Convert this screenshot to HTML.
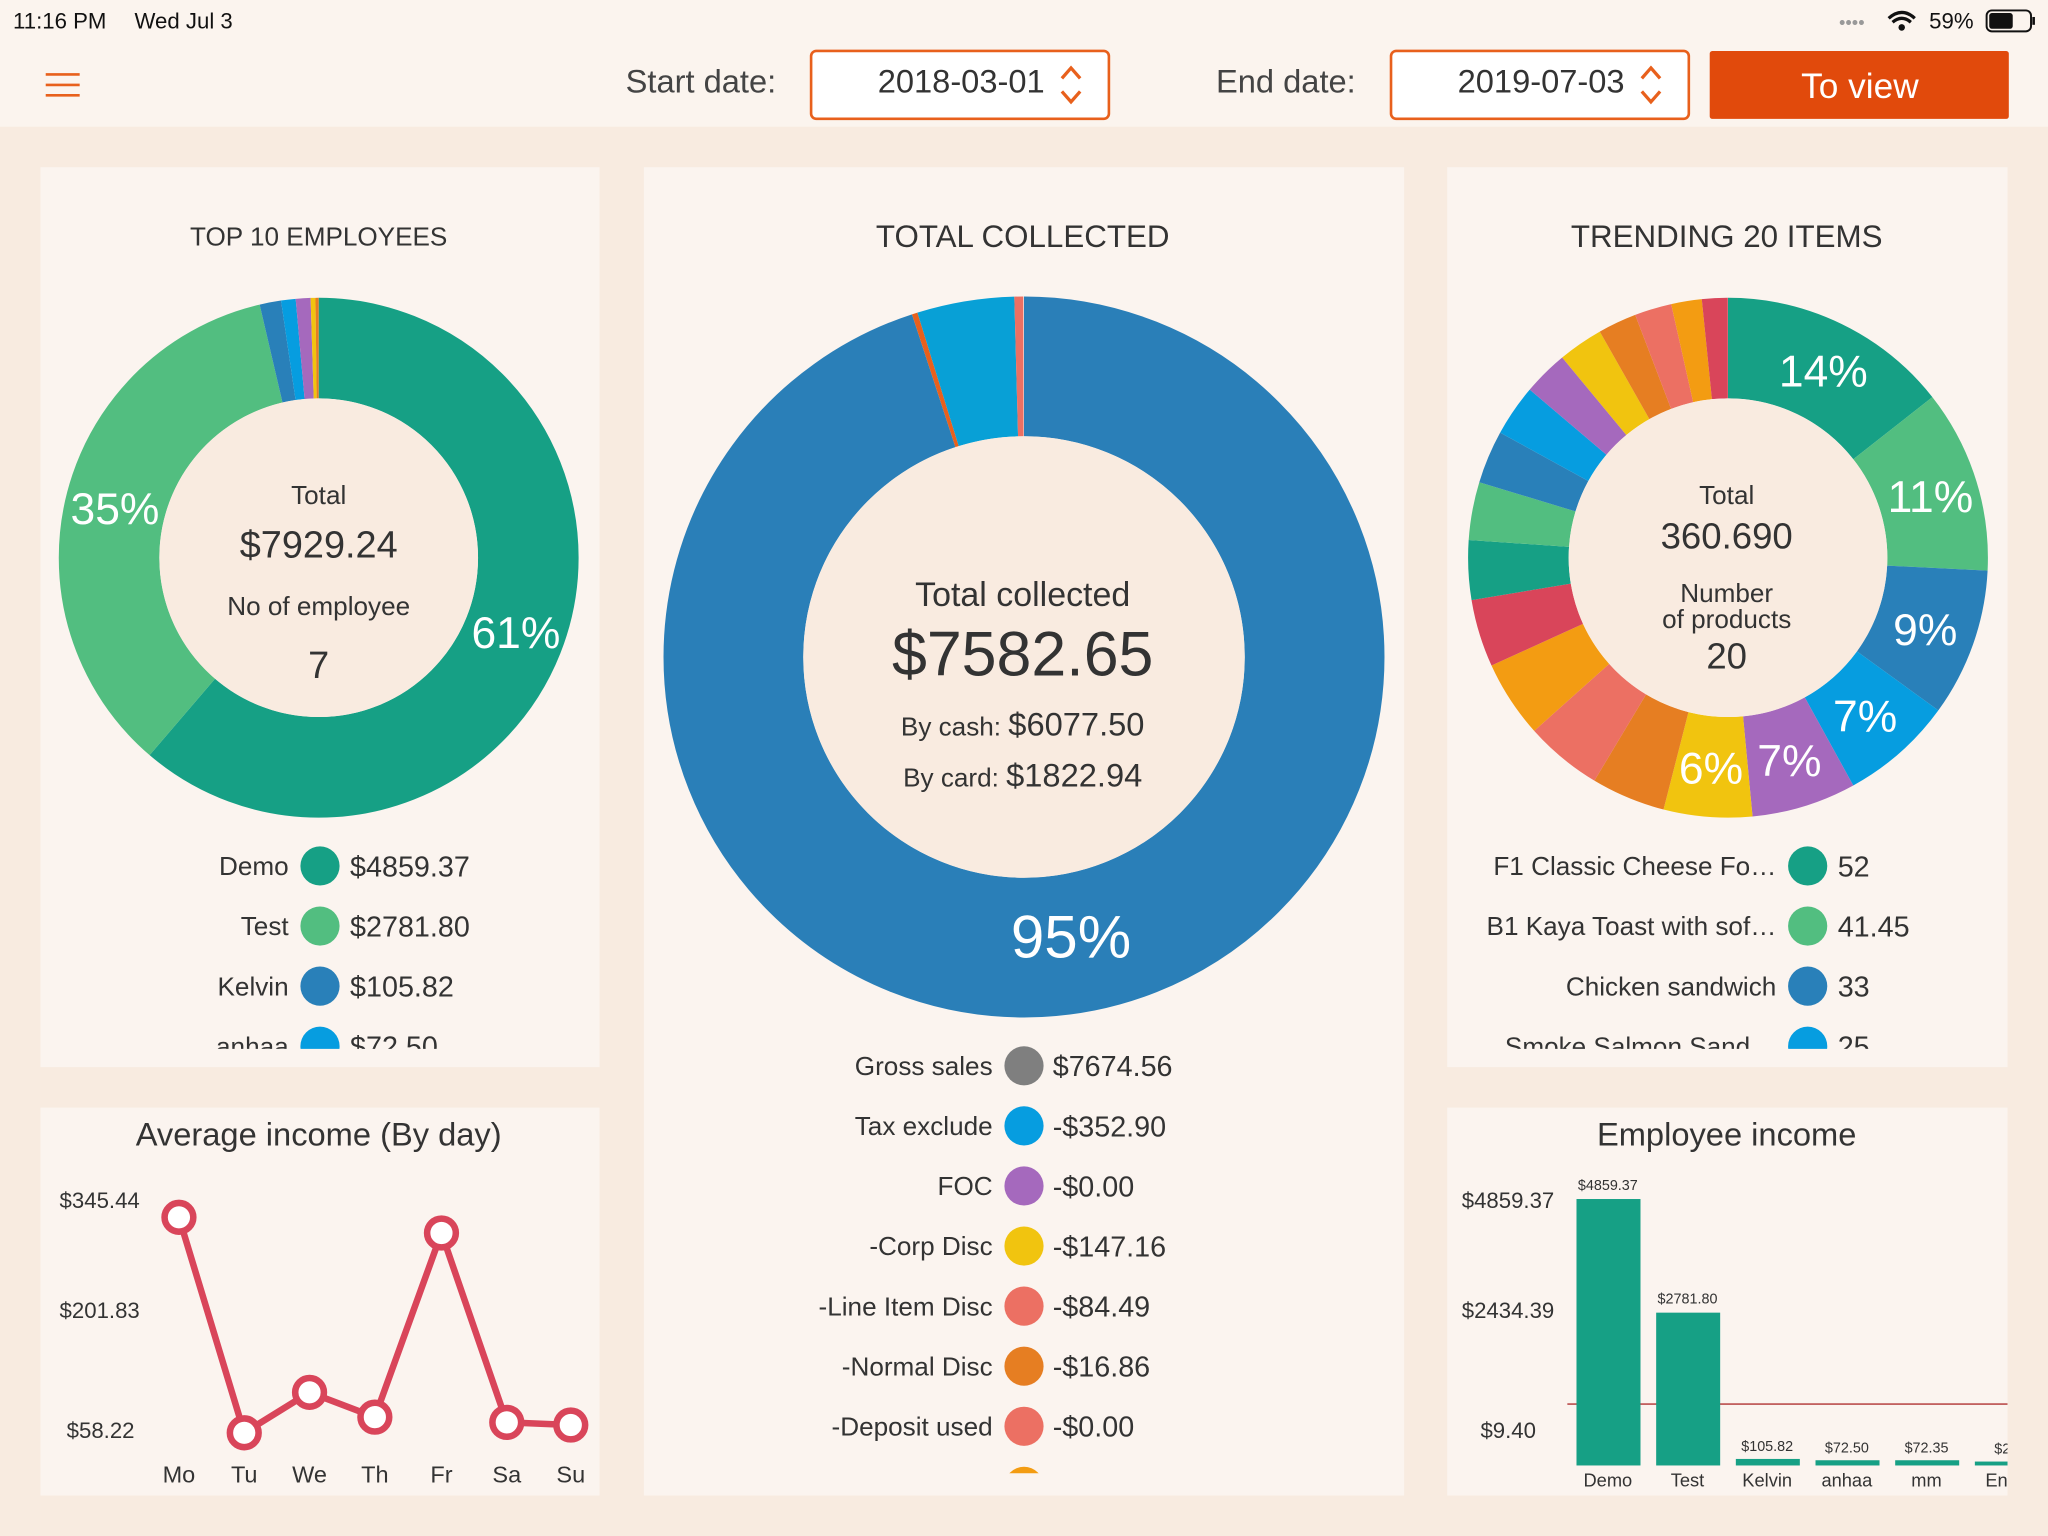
<!DOCTYPE html>
<html><head><meta charset="utf-8"><style>
html,body{margin:0;padding:0;background:#f8ebe0;}
svg{display:block}
text{font-family:"Liberation Sans",sans-serif;}
.n{font-family:"Liberation Sans Narrow","Liberation Sans",sans-serif;}
</style></head><body>
<svg width="2048" height="1536" viewBox="0 0 1568 1176" xmlns="http://www.w3.org/2000/svg">
<rect x="0" y="0" width="1568" height="1176" fill="#f8ebe0"/>
<rect x="0" y="0" width="1568" height="97" fill="#fbf4ee"/>
<!-- status bar -->
<text x="10" y="22" font-size="17" fill="#111">11:16 PM</text>
<text x="103" y="22" font-size="17" fill="#111">Wed Jul 3</text>
<text x="1408" y="22" font-size="14" fill="#999">••••</text>
<path d="M1446 14 q10 -9 20 0 M1449 17 q7 -6 14 0" stroke="#111" stroke-width="2.5" fill="none"/><circle cx="1456" cy="21" r="2.5" fill="#111"/>
<text x="1477" y="22" font-size="17" fill="#111">59%</text>
<rect x="1521" y="8" width="34" height="16" rx="4" fill="none" stroke="#111" stroke-width="1.5"/>
<rect x="1523" y="10" width="18" height="12" rx="2" fill="#111"/>
<rect x="1556" y="13" width="2" height="6" fill="#111"/>
<!-- header -->
<g stroke="#e8601c" stroke-width="2"><line x1="35" y1="57" x2="61" y2="57"/><line x1="35" y1="65" x2="61" y2="65"/><line x1="35" y1="73" x2="61" y2="73"/></g>
<text x="479" y="71" font-size="25" fill="#444">Start date:</text>
<rect x="621" y="39" width="228" height="52" rx="4" fill="#fff" stroke="#e8601c" stroke-width="2"/>
<text x="672" y="71" font-size="25" fill="#333">2018-03-01</text>
<path d="M813 60 l7 -8 l7 8 M813 70 l7 8 l7 -8" stroke="#e8601c" stroke-width="2.5" fill="none"/>
<text x="931" y="71" font-size="25" fill="#444">End date:</text>
<rect x="1065" y="39" width="228" height="52" rx="4" fill="#fff" stroke="#e8601c" stroke-width="2"/>
<text x="1116" y="71" font-size="25" fill="#333">2019-07-03</text>
<path d="M1257 60 l7 -8 l7 8 M1257 70 l7 8 l7 -8" stroke="#e8601c" stroke-width="2.5" fill="none"/>
<rect x="1309" y="39" width="229" height="52" rx="2" fill="#e14a0c"/>
<text x="1424" y="75" font-size="27" fill="#fff" text-anchor="middle">To view</text>
<!-- panels -->
<g fill="#fbf4ef">
<rect x="31" y="128" width="428" height="689"/>
<rect x="493" y="128" width="582" height="1017"/>
<rect x="1108" y="128" width="429" height="689"/>
<rect x="31" y="848" width="428" height="297"/>
<rect x="1108" y="848" width="429" height="297"/>
</g>
<text x="244" y="188" font-size="20" fill="#333" text-anchor="middle">TOP 10 EMPLOYEES</text>
<text x="783" y="189" font-size="24" fill="#333" text-anchor="middle">TOTAL COLLECTED</text>
<text x="1322" y="189" font-size="24" fill="#333" text-anchor="middle">TRENDING 20 ITEMS</text>
<text x="244" y="877" font-size="25" fill="#333" text-anchor="middle">Average income (By day)</text>
<text x="1322" y="877" font-size="25" fill="#333" text-anchor="middle">Employee income</text>

<!-- left donut -->
<g transform="rotate(-90 244 427)" fill="none" stroke-width="77">
<circle cx="244" cy="427" r="160.5" pathLength="100" stroke="#16a085" stroke-dasharray="61.28 100" stroke-dashoffset="0"/>
<circle cx="244" cy="427" r="160.5" pathLength="100" stroke="#52be80" stroke-dasharray="35.08 100" stroke-dashoffset="-61.28"/>
<circle cx="244" cy="427" r="160.5" pathLength="100" stroke="#2980b9" stroke-dasharray="1.33 100" stroke-dashoffset="-96.36"/>
<circle cx="244" cy="427" r="160.5" pathLength="100" stroke="#069de0" stroke-dasharray="0.91 100" stroke-dashoffset="-97.69"/>
<circle cx="244" cy="427" r="160.5" pathLength="100" stroke="#a569bd" stroke-dasharray="0.91 100" stroke-dashoffset="-98.6"/>
<circle cx="244" cy="427" r="160.5" pathLength="100" stroke="#f1c40f" stroke-dasharray="0.3 100" stroke-dashoffset="-99.51"/>
<circle cx="244" cy="427" r="160.5" pathLength="100" stroke="#e67e22" stroke-dasharray="0.2 100" stroke-dashoffset="-99.81"/>
</g>
<circle cx="244" cy="427" r="122" fill="#f9ebe0"/>
<text x="244" y="386" font-size="20" fill="#333" text-anchor="middle">Total</text>
<text class="n" x="244" y="427" font-size="29" fill="#333" text-anchor="middle">$7929.24</text>
<text x="244" y="471" font-size="20" fill="#333" text-anchor="middle">No of employee</text>
<text class="n" x="244" y="519" font-size="29" fill="#333" text-anchor="middle">7</text>
<text class="n" x="395" y="496" font-size="34" fill="#fff" text-anchor="middle">61%</text>
<text class="n" x="88" y="401" font-size="34" fill="#fff" text-anchor="middle">35%</text>

<!-- middle donut -->
<g transform="rotate(-90 784 503)" fill="none" stroke-width="107">
<circle cx="784" cy="503" r="222.5" pathLength="100" stroke="#2a7fb8" stroke-dasharray="95 100" stroke-dashoffset="0"/>
<circle cx="784" cy="503" r="222.5" pathLength="100" stroke="#e8601c" stroke-dasharray="0.25 100" stroke-dashoffset="-95"/>
<circle cx="784" cy="503" r="222.5" pathLength="100" stroke="#08a0d6" stroke-dasharray="4.35 100" stroke-dashoffset="-95.25"/>
<circle cx="784" cy="503" r="222.5" pathLength="100" stroke="#ec7063" stroke-dasharray="0.4 100" stroke-dashoffset="-99.6"/>
</g>
<circle cx="784" cy="503" r="169" fill="#f9ebe0"/>
<text x="783" y="464" font-size="26" fill="#333" text-anchor="middle">Total collected</text>
<text class="n" x="783" y="517" font-size="48" fill="#333" text-anchor="middle">$7582.65</text>
<text x="783" y="563" font-size="20" fill="#333" text-anchor="middle">By cash: <tspan class="n" font-size="25">$6077.50</tspan></text>
<text x="783" y="602" font-size="20" fill="#333" text-anchor="middle">By card: <tspan class="n" font-size="25">$1822.94</tspan></text>
<text class="n" x="820" y="733" font-size="46" fill="#fff" text-anchor="middle">95%</text>

<!-- right donut -->
<g transform="rotate(-90 1323 427)" fill="none" stroke-width="77">
<circle cx="1323" cy="427" r="160.5" pathLength="100" stroke="#16a085" stroke-dasharray="14.4 100" stroke-dashoffset="0"/>
<circle cx="1323" cy="427" r="160.5" pathLength="100" stroke="#52be80" stroke-dasharray="11.4 100" stroke-dashoffset="-14.4"/>
<circle cx="1323" cy="427" r="160.5" pathLength="100" stroke="#2980b9" stroke-dasharray="9.2 100" stroke-dashoffset="-25.8"/>
<circle cx="1323" cy="427" r="160.5" pathLength="100" stroke="#069de0" stroke-dasharray="7 100" stroke-dashoffset="-35"/>
<circle cx="1323" cy="427" r="160.5" pathLength="100" stroke="#a569bd" stroke-dasharray="6.5 100" stroke-dashoffset="-42"/>
<circle cx="1323" cy="427" r="160.5" pathLength="100" stroke="#f1c40f" stroke-dasharray="5.5 100" stroke-dashoffset="-48.5"/>
<circle cx="1323" cy="427" r="160.5" pathLength="100" stroke="#e67e22" stroke-dasharray="4.6 100" stroke-dashoffset="-54"/>
<circle cx="1323" cy="427" r="160.5" pathLength="100" stroke="#ec7063" stroke-dasharray="4.8 100" stroke-dashoffset="-58.6"/>
<circle cx="1323" cy="427" r="160.5" pathLength="100" stroke="#f39c12" stroke-dasharray="4.8 100" stroke-dashoffset="-63.4"/>
<circle cx="1323" cy="427" r="160.5" pathLength="100" stroke="#d9455a" stroke-dasharray="4.2 100" stroke-dashoffset="-68.2"/>
<circle cx="1323" cy="427" r="160.5" pathLength="100" stroke="#16a085" stroke-dasharray="3.7 100" stroke-dashoffset="-72.4"/>
<circle cx="1323" cy="427" r="160.5" pathLength="100" stroke="#52be80" stroke-dasharray="3.6 100" stroke-dashoffset="-76.1"/>
<circle cx="1323" cy="427" r="160.5" pathLength="100" stroke="#2980b9" stroke-dasharray="3.3 100" stroke-dashoffset="-79.7"/>
<circle cx="1323" cy="427" r="160.5" pathLength="100" stroke="#069de0" stroke-dasharray="3.2 100" stroke-dashoffset="-83"/>
<circle cx="1323" cy="427" r="160.5" pathLength="100" stroke="#a569bd" stroke-dasharray="2.8 100" stroke-dashoffset="-86.2"/>
<circle cx="1323" cy="427" r="160.5" pathLength="100" stroke="#f1c40f" stroke-dasharray="2.8 100" stroke-dashoffset="-89"/>
<circle cx="1323" cy="427" r="160.5" pathLength="100" stroke="#e67e22" stroke-dasharray="2.4 100" stroke-dashoffset="-91.8"/>
<circle cx="1323" cy="427" r="160.5" pathLength="100" stroke="#ec7063" stroke-dasharray="2.3 100" stroke-dashoffset="-94.2"/>
<circle cx="1323" cy="427" r="160.5" pathLength="100" stroke="#f39c12" stroke-dasharray="1.9 100" stroke-dashoffset="-96.5"/>
<circle cx="1323" cy="427" r="160.5" pathLength="100" stroke="#d9455a" stroke-dasharray="1.6 100" stroke-dashoffset="-98.4"/>
</g>
<circle cx="1323" cy="427" r="122" fill="#f9ebe0"/>
<text x="1322" y="386" font-size="20" fill="#333" text-anchor="middle">Total</text>
<text class="n" x="1322" y="420" font-size="28" fill="#333" text-anchor="middle">360.690</text>
<text x="1322" y="461" font-size="20" fill="#333" text-anchor="middle">Number</text>
<text x="1322" y="481" font-size="20" fill="#333" text-anchor="middle">of products</text>
<text class="n" x="1322" y="512" font-size="28" fill="#333" text-anchor="middle">20</text>
<g class="n" font-size="34" fill="#fff" text-anchor="middle">
<text class="n" x="1396" y="296">14%</text>
<text class="n" x="1478" y="392">11%</text>
<text class="n" x="1474" y="494">9%</text>
<text class="n" x="1428" y="560">7%</text>
<text class="n" x="1370" y="594">7%</text>
<text class="n" x="1310" y="600">6%</text>
</g>

<!-- left legend -->
<svg x="31" y="640" width="428" height="163" viewBox="31 640 428 163" overflow="hidden">
<g font-size="20" fill="#333" text-anchor="end">
<text x="221" y="670">Demo</text><text x="221" y="716">Test</text><text x="221" y="762">Kelvin</text><text x="221" y="808">anhaa</text>
</g>
<circle cx="245" cy="663" r="15" fill="#16a085"/><circle cx="245" cy="709" r="15" fill="#52be80"/><circle cx="245" cy="755" r="15" fill="#2980b9"/><circle cx="245" cy="801" r="15" fill="#069de0"/>
<g class="n" font-size="22" fill="#333">
<text class="n" x="268" y="671">$4859.37</text><text class="n" x="268" y="717">$2781.80</text><text class="n" x="268" y="763">$105.82</text><text class="n" x="268" y="809">$72.50</text>
</g>
</svg>

<!-- right legend -->
<svg x="1108" y="640" width="429" height="163" viewBox="1108 640 429 163" overflow="hidden">
<g font-size="20" fill="#333" text-anchor="end">
<text x="1360" y="670">F1 Classic Cheese Fo…</text><text x="1360" y="716">B1 Kaya Toast with sof…</text><text x="1360" y="762">Chicken sandwich</text><text x="1340" y="808">Smoke Salmon Sand</text>
</g>
<circle cx="1384" cy="663" r="15" fill="#16a085"/><circle cx="1384" cy="709" r="15" fill="#52be80"/><circle cx="1384" cy="755" r="15" fill="#2980b9"/><circle cx="1384" cy="801" r="15" fill="#069de0"/>
<g font-size="22" fill="#333">
<text class="n" x="1407" y="671">52</text><text class="n" x="1407" y="717">41.45</text><text class="n" x="1407" y="763">33</text><text class="n" x="1407" y="809">25</text>
</g>
</svg>

<!-- middle legend -->
<svg x="493" y="790" width="582" height="338" viewBox="493 790 582 338" overflow="hidden">
<g font-size="20" fill="#333" text-anchor="end">
<text x="760" y="823">Gross sales</text><text x="760" y="869">Tax exclude</text><text x="760" y="915">FOC</text><text x="760" y="961">-Corp Disc</text><text x="760" y="1007">-Line Item Disc</text><text x="760" y="1053">-Normal Disc</text><text x="760" y="1099">-Deposit used</text><text x="760" y="1145">-Rounding</text>
</g>
<circle cx="784" cy="816" r="15" fill="#7f7f7f"/><circle cx="784" cy="862" r="15" fill="#069de0"/><circle cx="784" cy="908" r="15" fill="#a569bd"/><circle cx="784" cy="954" r="15" fill="#f1c40f"/><circle cx="784" cy="1000" r="15" fill="#ec7063"/><circle cx="784" cy="1046" r="15" fill="#e67e22"/><circle cx="784" cy="1092" r="15" fill="#ec7063"/><circle cx="784" cy="1138" r="15" fill="#f39c12"/>
<g font-size="22" fill="#333">
<text class="n" x="806" y="824">$7674.56</text><text class="n" x="806" y="870">-$352.90</text><text class="n" x="806" y="916">-$0.00</text><text class="n" x="806" y="962">-$147.16</text><text class="n" x="806" y="1008">-$84.49</text><text class="n" x="806" y="1054">-$16.86</text><text class="n" x="806" y="1100">-$0.00</text><text class="n" x="806" y="1146">-$0.00</text>
</g>
</svg>

<!-- line chart -->
<g font-size="17" fill="#333" text-anchor="end">
<text x="107" y="925">$345.44</text><text x="107" y="1009">$201.83</text><text x="103" y="1101">$58.22</text>
</g>
<g font-size="18" fill="#333" text-anchor="middle">
<text x="137" y="1135">Mo</text><text x="187" y="1135">Tu</text><text x="237" y="1135">We</text><text x="287" y="1135">Th</text><text x="338" y="1135">Fr</text><text x="388" y="1135">Sa</text><text x="437" y="1135">Su</text>
</g>
<polyline points="137,932 187,1097 237,1066 287,1085 338,944 388,1089 437,1091" fill="none" stroke="#d9455a" stroke-width="5"/>
<g fill="#fff" stroke="#d9455a" stroke-width="5">
<circle cx="137" cy="932" r="11"/><circle cx="187" cy="1097" r="11"/><circle cx="237" cy="1066" r="11"/><circle cx="287" cy="1085" r="11"/><circle cx="338" cy="944" r="11"/><circle cx="388" cy="1089" r="11"/><circle cx="437" cy="1091" r="11"/>
</g>

<!-- bar chart -->
<svg x="1108" y="848" width="429" height="297" viewBox="1108 848 429 297" overflow="hidden">
<g font-size="17" fill="#333" text-anchor="end">
<text x="1190" y="925">$4859.37</text><text x="1190" y="1009">$2434.39</text><text x="1176" y="1101">$9.40</text>
</g>
<line x1="1200" y1="1075" x2="1537" y2="1075" stroke="#b03030" stroke-width="1"/>
<g fill="#16a085">
<rect x="1207" y="918" width="49" height="204"/>
<rect x="1268" y="1005" width="49" height="117"/>
<rect x="1329" y="1117" width="49" height="5"/>
<rect x="1390" y="1118" width="49" height="4"/>
<rect x="1451" y="1118" width="49" height="4"/>
<rect x="1512" y="1119" width="49" height="3"/>
</g>
<g font-size="11" fill="#333" text-anchor="middle">
<text x="1231" y="911">$4859.37</text><text x="1292" y="998">$2781.80</text><text x="1353" y="1111">$105.82</text><text x="1414" y="1112">$72.50</text><text x="1475" y="1112">$72.35</text><text x="1536" y="1113">$28</text>
</g>
<g font-size="14" fill="#333" text-anchor="middle">
<text x="1231" y="1138">Demo</text><text x="1292" y="1138">Test</text><text x="1353" y="1138">Kelvin</text><text x="1414" y="1138">anhaa</text><text x="1475" y="1138">mm</text><text x="1536" y="1138">Enkh</text>
</g>
</svg>
</svg>
</body></html>
